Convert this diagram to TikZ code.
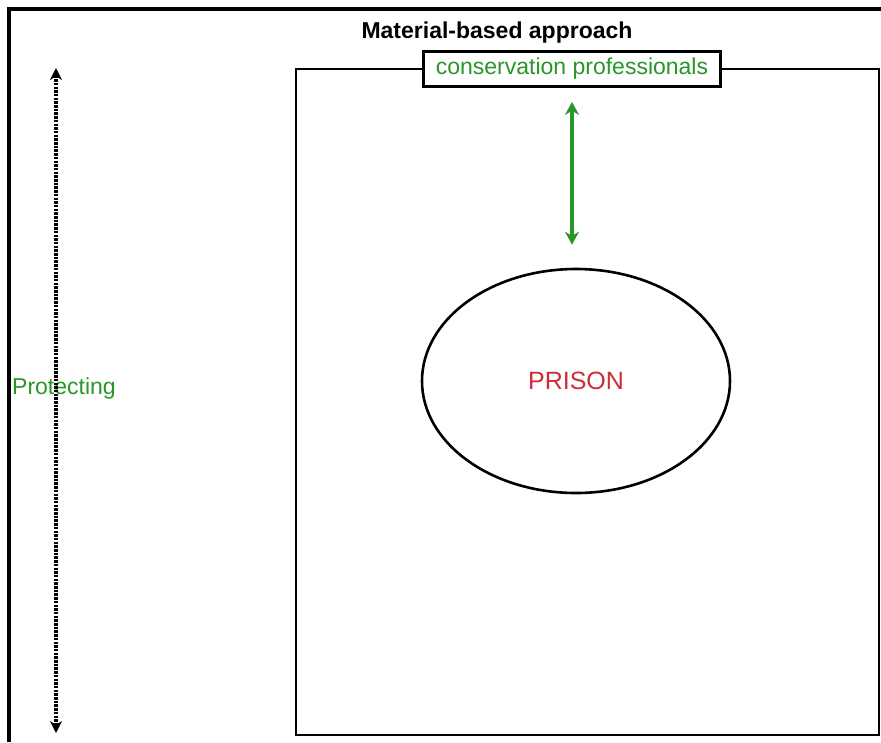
\documentclass[tikz,border=0pt]{standalone}
\usepackage{fontspec}
\setmainfont{Liberation Sans}
\usepackage{xcolor}
\usetikzlibrary{arrows.meta,shapes.geometric}

\begin{document}
\begin{tikzpicture}[x=1pt,y=-1pt]
		%COLORES
		\definecolor{mygreen}{RGB}{40,150,40}
		\definecolor{myred}{RGB}{205,45,55}
		\tikzset{
			label/.style={font=\fontsize{23}{25}\selectfont, inner sep=0pt},
			profbox/.style={draw, line width=2.8pt, fill=white, minimum width=297, minimum height=35, inner sep=0pt},
			prisonshape/.style={ellipse, draw, line width=2.6pt, minimum width=308, minimum height=224, inner sep=0pt}
		}
		\useasboundingbox (0,0) rectangle (881,742);

		%MARCO
		\draw[line width=3.5pt] (9,742) -- (9,9) -- (881,9);

		%CAJA
		\draw[line width=2.8pt] (296,69) rectangle (879,735);

		%NODOS
		\node[label, font=\fontsize{23}{25}\selectfont\bfseries] (title) at (497,33) {Material-based approach};
		\node[profbox, label, text=mygreen] (prof) at (572,69) {conservation professionals};
		\node[prisonshape, label, font=\fontsize{25}{27}\selectfont, text=myred] (prison) at (576,381) {PRISON};
		\node[label, text=mygreen, anchor=west] (protect) at (12,389) {Protecting};

		%FLECHAS
		\draw[mygreen, line width=4pt, {Stealth[length=13pt,width=14pt]}-{Stealth[length=13pt,width=14pt]}, shorten <=14pt, shorten >=23pt] (prof.south -| 572,0) -- (prison.north -| 572,0);
		\coordinate (top) at (56,68);
		\coordinate (bot) at (56,733);
		\draw[line width=3.5pt, dash pattern=on 2.5pt off 1.2pt, {Stealth[length=12pt,width=12pt]}-{Stealth[length=12pt,width=12pt]}] (top) -- (bot);
	\end{tikzpicture}
\end{document}
